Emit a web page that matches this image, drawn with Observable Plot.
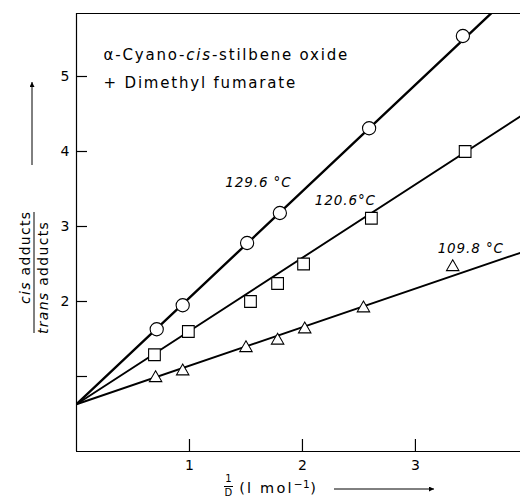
<!DOCTYPE html>
<html><head><meta charset="utf-8">
<script src="https://cdn.jsdelivr.net/npm/d3@7"></script>
<script src="https://cdn.jsdelivr.net/npm/@observablehq/plot@0.6"></script>
<style>body{margin:0;background:#fff} svg{display:block}</style>
</head><body><div id="chart"></div>
<script>
// ---- data ----
const seriesNames = ["129.6 °C", "120.6°C", "109.8 °C"];
const seriesSymbols = ["circle", "square", "triangle"];
const xCircle = [0.71, 0.94, 1.51, 1.80, 2.59, 3.42];
const yCircle = [1.63, 1.95, 2.78, 3.18, 4.31, 5.54];
const xSquare = [0.69, 0.99, 1.54, 1.78, 2.01, 2.61, 3.44];
const ySquare = [1.29, 1.60, 2.00, 2.24, 2.50, 3.11, 4.00];
const xTriangle = [0.70, 0.94, 1.50, 1.78, 2.02, 2.54, 3.33];
const yTriangle = [0.98, 1.07, 1.38, 1.48, 1.63, 1.91, 2.46];
const fitIntercept = 0.63;
const fitSlopes = [1.42, 0.977, 0.514];
const labelX = [1.61, 2.38, 3.49];
const labelY = [3.58, 3.34, 2.70];
const xTicks = [1, 2, 3];
const yTicks = [1, 2, 3, 4, 5];
const yTickLabels = ["", "2", "3", "4", "5"];
const xDomain = [0, 3.93];
const yDomain = [0, 5.84];
const legendLines = ["α-Cyano-cis-stilbene oxide", "+ Dimethyl fumarate"];
const legendX = [0.24, 0.24];
const legendY = [5.29, 4.91];
const yLabelParts = ["cis adducts", "trans adducts"];
const yLabelX = [-0.455, -0.295];
const yLabelY = [2.59, 2.32];
const xLabelParts = ["1", "D", "(l mol-1)"];
const xLabelX = [1.345, 1.345, 1.44];
const xLabelY = [-0.37, -0.55, -0.49];

// ---- build tables ----
const xs = [xCircle, xSquare, xTriangle];
const ys = [yCircle, ySquare, yTriangle];
const points = [];
xs.forEach((arr, s) => arr.forEach((x, i) => points.push({x, y: ys[s][i], s})));
const fitLines = [];
fitSlopes.forEach((m, s) => {
  for (const x of xDomain) fitLines.push({x, y: fitIntercept + m * x, s});
});
const labels = seriesNames.map((t, i) => ({t, x: labelX[i], y: labelY[i]}));
const legend = legendLines.map((t, i) => ({t, x: legendX[i], y: legendY[i]}));
const yLab = yLabelParts.map((t, i) => ({t, x: yLabelX[i], y: yLabelY[i]}));
const xLab = xLabelParts.map((t, i) => ({t, x: xLabelX[i], y: xLabelY[i]}));

const FONT = "DejaVu Sans, sans-serif";
const lineWidths = [2.4, 1.9, 1.9];
const symR = [6.6, 6.6, 4.6];

const plot = Plot.plot({
  width: 520,
  height: 499,
  marginLeft: 76,
  marginRight: 0,
  marginTop: 13,
  marginBottom: 48,
  style: {fontFamily: FONT, fontSize: "14px", color: "#000", background: "#fff"},
  x: {domain: xDomain},
  y: {domain: yDomain},
  marks: [
    Plot.ruleX([xDomain[0]], {stroke: "#000", strokeWidth: 1.2}),
    Plot.ruleY([yDomain[0]], {stroke: "#000", strokeWidth: 1.2}),
    Plot.ruleY([yDomain[1]], {stroke: "#000", strokeWidth: 1.2}),
    Plot.axisX({ticks: xTicks, tickSize: -12, tickPadding: 21, tickFormat: d => String(d), label: null, stroke: "#000", strokeWidth: 1.2, fontSize: 14}),
    Plot.axisY({ticks: yTicks, tickSize: -11, tickPadding: 18, tickFormat: d => yTickLabels[yTicks.indexOf(d)], label: null, stroke: "#000", strokeWidth: 1.2, fontSize: 14}),
    ...fitSlopes.map((m, s) => Plot.line(fitLines.filter(d => d.s === s), {x: "x", y: "y", stroke: "#000", strokeWidth: lineWidths[s], clip: true})),
    ...seriesSymbols.map((sym, s) => Plot.dot(points.filter(d => d.s === s), {x: "x", y: "y", symbol: sym, r: symR[s], fill: "#fff", stroke: "#000", strokeWidth: 1.1})),
    Plot.text(labels, {x: "x", y: "y", text: "t", fontStyle: "italic", fontSize: 13.5, fill: "#000", className: "tlabel"}),
    Plot.text(legend, {x: "x", y: "y", text: "t", textAnchor: "start", fontSize: 15, fill: "#000", className: "legend"}),
    Plot.text(yLab, {x: "x", y: "y", text: "t", rotate: -90, fontSize: 14, fill: "#000", className: "ylab"}),
    Plot.text(xLab.slice(0, 2), {x: "x", y: "y", text: "t", fontSize: 10, fill: "#000"}),
    Plot.text(xLab.slice(2), {x: "x", y: "y", text: "t", textAnchor: "start", fontSize: 14.5, fill: "#000", className: "xlab"})
  ]
});

// ---- rich text (italic parts, superscript), spacing and decorations ----
const svg = d3.select(plot);
svg.selectAll(".legend text").attr("letter-spacing", 1.8);
svg.selectAll(".tlabel text").attr("letter-spacing", 0.9);
svg.selectAll(".ylab text").attr("letter-spacing", 1.3);
svg.selectAll(".xlab text").attr("letter-spacing", 2.2);
function rich(txt, parts) {
  svg.selectAll("text").filter(function () { return this.textContent === txt; }).each(function () {
    const el = d3.select(this);
    el.text(null);
    parts.forEach(([s, it, extra]) => {
      const t = el.append("tspan").attr("font-style", it ? "italic" : null).text(s);
      if (extra) for (const k in extra) t.attr(k, extra[k]);
    });
  });
}
rich(legendLines[0], [["α-Cyano-", false], ["cis", true], ["-stilbene oxide", false]]);
rich(yLabelParts[0], [["cis", true], [" adducts", false]]);
rich(yLabelParts[1], [["trans", true], [" adducts", false]]);
rich(xLabelParts[2], [["(l mol", false], ["−1", false, {"font-size": 10.5, dy: -5, "letter-spacing": 0.5}], [")", false, {dy: 5}]]);

const defs = svg.append("defs");
defs.append("marker").attr("id", "ah").attr("viewBox", "0 0 10 10").attr("refX", 10).attr("refY", 5)
  .attr("markerWidth", 9).attr("markerHeight", 5).attr("markerUnits", "userSpaceOnUse").attr("orient", "auto")
  .append("path").attr("d", "M0,0L10,5L0,10z").attr("fill", "#000");
const deco = svg.append("g").attr("stroke", "#000");
// fraction bars
deco.append("line").attr("x1", 34).attr("x2", 34).attr("y1", 212).attr("y2", 333).attr("stroke-width", 1);
deco.append("line").attr("x1", 224).attr("x2", 233).attr("y1", 486.5).attr("y2", 486.5).attr("stroke-width", 1);
// direction arrows
deco.append("line").attr("x1", 32).attr("x2", 32).attr("y1", 165).attr("y2", 82).attr("stroke-width", 1).attr("marker-end", "url(#ah)");
deco.append("line").attr("x1", 334).attr("x2", 434).attr("y1", 489).attr("y2", 489).attr("stroke-width", 1).attr("marker-end", "url(#ah)");

document.getElementById("chart").append(plot);
</script>
</body></html>
